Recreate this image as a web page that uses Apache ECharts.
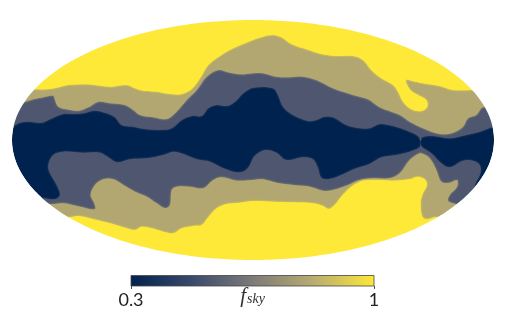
<!DOCTYPE html>
<html><head><meta charset="utf-8">
<style>html,body{margin:0;padding:0;background:#fff}#c{width:506px;height:321px}</style>
<script src="https://cdn.jsdelivr.net/npm/echarts@6/dist/echarts.min.js"></script>
</head><body><div id="c"></div>
<script>
// Map-plane boundaries between f_sky levels (x, y on the Mollweide plane, read left to right)
const northSlateEdge = [[-250,14],[-240.3,14],[-233,17.3],[-224.7,18.3],[-211.3,17.3],[-203,20.7],[-189.7,26],[-178,26],[-169.7,26.7],[-158,29.3],[-146.3,26.7],[-138,22.7],[-131.3,15],[-119.7,13.3],[-106.3,10.7],[-93,10],[-81.3,11.7],[-71.3,20],[-61.3,24],[-51.3,24],[-44.7,31.7],[-36.3,35],[-26.3,34],[-18,38.3],[-9.7,46.7],[0,52.3],[20,51.7],[25,45],[30,33.3],[40,25],[55,19],[63.3,20],[71.7,23.3],[80,22.7],[93.3,15],[106.7,11.7],[116.7,11.7],[126.7,16],[140,14],[156.7,8.3],[165.5,3.5],[167.8,-1.5],[169,2.7],[180,4],[196.7,1.7],[213.3,5],[226.7,8.3],[240,13.3],[252,16]];
const northKhakiEdge = [[-250,34],[-229,37.7],[-219.7,40.7],[-209.7,42.7],[-199.7,44.3],[-198,40],[-194.7,33.3],[-186.3,30.7],[-174.7,29.3],[-164.7,32.7],[-154.7,38.3],[-143,36.7],[-128,35],[-119.7,30],[-113,25],[-99.7,22.7],[-86.3,21],[-78,26.7],[-66.3,40],[-56.3,50],[-46.3,63.3],[-34.7,70],[-23,67.3],[-11.3,65.7],[0,66.7],[10,66.7],[23.3,63.3],[36.7,62.7],[50,63.3],[63.3,60],[80,51.7],[100,45],[115,40.7],[126.7,32.7],[138.3,28.3],[146.7,25],[156.7,18.3],[170,11.7],[186.7,6],[200,7.3],[210,13.3],[215,21.7],[223.3,25],[230,32.7],[250,34]];
const northYellowEdge = [[-250,50],[-219.7,50.7],[-206.3,50.7],[-196.3,52.3],[-184.7,55],[-166.3,55.7],[-143,53.3],[-126.3,55],[-118,51.7],[-109.7,49.3],[-96.3,48.3],[-83,46],[-71.3,46],[-61.3,51],[-53,61.7],[-44.7,75],[-33,84],[-19.7,91.7],[0,100],[10,103.3],[20,105],[28.3,102.7],[38.3,96],[53.3,90.7],[68.3,86],[83.3,84],[100,84],[110,80],[118.3,70],[128.3,61.7],[140,55],[145,48.3],[150,38.3],[158.3,30.7],[168.3,29],[174.3,33.3],[173.3,40],[165,45],[157.3,50],[152.7,60],[158.3,59.3],[170,56.7],[186.7,54],[200,50],[218.3,50],[250,50]];
const southSlateEdge = [[-228,-58],[-209.7,-58.3],[-198,-59.3],[-193,-55],[-196.3,-45],[-203,-33.3],[-204.7,-25],[-199.7,-15],[-189.7,-11.7],[-169.7,-12.7],[-153,-12.7],[-144.7,-17.3],[-136.3,-22.3],[-123,-19.3],[-106.3,-18.3],[-89.7,-15],[-79.7,-11.7],[-69.7,-14],[-56.3,-19.3],[-43,-21.7],[-29.7,-28.3],[-16.3,-32.3],[-8,-30.7],[-3,-25],[0,-18.3],[5,-13.3],[13.3,-10],[23.3,-12.7],[33.3,-20],[50,-17.3],[60,-19.3],[65,-28.3],[68.3,-37.7],[76.7,-39],[88.3,-35],[103.3,-28.3],[116.7,-24],[128.3,-17.3],[143.3,-15],[156.7,-11.7],[166.7,-7.3],[167.7,-1.7],[168.7,-6.7],[178.3,-13.3],[188.3,-23.3],[196.7,-27.3],[210,-20.7],[220,-20.7],[226.7,-25],[227.3,-33.3],[222,-48],[240,-58]];
const southKhakiEdge = [[-225,-64],[-201.3,-64.3],[-189.7,-63.3],[-173,-66.7],[-158,-69.3],[-158.7,-63.3],[-162.3,-55],[-158,-45],[-149.7,-39.3],[-139.7,-39.3],[-129.7,-45],[-118,-51.7],[-106.3,-56.7],[-96.3,-63.3],[-88,-68.3],[-83,-65],[-81.3,-50],[-76.3,-46.7],[-63,-46.7],[-49.7,-48.3],[-39.7,-40],[-31.3,-37.3],[-16.3,-40.7],[0,-40],[10,-39.3],[23.3,-42.7],[40,-45],[56.7,-46.7],[70,-50.7],[80,-50],[95,-45],[106.7,-40],[120,-38.3],[136.7,-38.3],[146.7,-33.3],[156.7,-20],[165,-14],[168.3,-13.3],[176.7,-18.3],[183.3,-30],[188.3,-41.7],[196.7,-42.7],[204,-40],[204,-46.7],[196.7,-55],[195,-60.7],[200,-63.3],[225,-70]];
const southYellowEdge = [[-205,-77],[-183.7,-77.3],[-174.7,-76],[-159.7,-79.3],[-143,-83.3],[-126.3,-88.3],[-118,-90],[-111.3,-86.7],[-101.3,-88.3],[-89.7,-91.7],[-79.7,-93.3],[-71.3,-88.3],[-59.7,-86],[-51.3,-85],[-44.7,-77.3],[-36.3,-68.3],[-26.3,-64],[-13,-62.7],[0,-61],[20,-61.7],[40,-62.3],[60,-63.3],[70,-66],[76,-69],[81.7,-65],[88.3,-56.7],[98.3,-46.7],[110,-40.7],[123.3,-40],[140,-40.7],[156.7,-39.3],[165,-36.7],[171.7,-39.3],[174,-45],[170,-53.3],[167.7,-61.7],[169,-76],[173.3,-79.3],[183.3,-77.3],[215,-85]];

const levelColors = {navy:'#00224e', slate:'#4f5770', khaki:'#b2a770', yellow:'#fee838'};
const colorbarStops = ['#00224e','#3a496b','#7c7b78','#b9ac70','#fee838'];
const colorbarTicks = [0.3, 1];
const colorbarLabels = ['0.3','1'];
const colorbarRange = [0.3, 1];

const A = 241, B = 120;           // half-axes of the map ellipse in plane units
const FAR = 200;
const layers = [
  {edge:northSlateEdge, color:levelColors.slate, side:1},
  {edge:southSlateEdge, color:levelColors.slate, side:-1},
  {edge:northKhakiEdge, color:levelColors.khaki, side:1},
  {edge:southKhakiEdge, color:levelColors.khaki, side:-1},
  {edge:northYellowEdge, color:levelColors.yellow, side:1},
  {edge:southYellowEdge, color:levelColors.yellow, side:-1}
];
function ellipsePts(rev){
  const out=[];
  for(let i=0;i<=360;i++){const t=(rev?-i:i)*Math.PI/180; out.push([A*Math.cos(t),B*Math.sin(t)]);}
  return out;
}
function regionPts(l){
  const e=l.edge, y=l.side*FAR, ends=e[e.length-1], first=e[0];
  return e.concat([[ends[0]+30,ends[1]],[ends[0]+30,y],[first[0]-30,y],[first[0]-30,first[1]]]);
}
const chart = echarts.init(document.getElementById('c'), null, {renderer:'canvas'});
chart.setOption({
  backgroundColor:'#fff',
  animation:false,
  grid:[
    {left:0,top:0,width:506,height:321,show:false,outerBoundsMode:'none'},
    {left:131,top:275.5,width:243,height:10.5,show:false,outerBoundsMode:'none'}
  ],
  xAxis:[
    {gridIndex:0,type:'value',min:-253,max:253,show:false},
    {gridIndex:1,type:'value',min:colorbarRange[0],max:colorbarRange[1],z:10,
     axisLine:{show:false},splitLine:{show:false},
     axisTick:{show:true,length:3,customValues:colorbarTicks,lineStyle:{color:'#222',width:0.8}},
     axisLabel:{show:true,margin:5,customValues:colorbarTicks,fontFamily:'Lato',fontSize:18,color:'#222',
       showMinLabel:true,showMaxLabel:true,alignMinLabel:'center',alignMaxLabel:'center',
       formatter:v=>colorbarLabels[colorbarTicks.indexOf(v)]},
     name:'{f|f}{s|sky}',nameLocation:'middle',nameGap:0,nameMoveOverlap:false,
     nameTextStyle:{verticalAlign:'top',rich:{
       f:{fontFamily:'Liberation Serif',fontStyle:'italic',fontSize:21,color:'#333'},
       s:{fontFamily:'Liberation Serif',fontStyle:'italic',fontSize:14,color:'#333',padding:[5,0,0,1]}}}}
  ],
  yAxis:[
    {gridIndex:0,type:'value',min:-181,max:140,show:false},
    {gridIndex:1,type:'value',min:0,max:1,show:false}
  ],
  series:[
    {type:'custom',xAxisIndex:0,yAxisIndex:0,clip:false,silent:true,z:2,
     data:[[0]],
     renderItem:(p,api)=>({type:'polygon',
       shape:{points:ellipsePts(false).map(q=>api.coord(q))},
       style:{fill:levelColors.navy}})},
    {type:'custom',xAxisIndex:0,yAxisIndex:0,clip:false,silent:true,z:3,
     data:layers.map((l,i)=>[i]),
     renderItem:(p,api)=>{
       const l=layers[p.dataIndex];
       return {type:'polygon',
         shape:{points:regionPts(l).map(q=>api.coord(q)),smooth:0.35},
         style:{fill:l.color,shadowColor:l.color,shadowBlur:2}};
     }},
    {type:'custom',xAxisIndex:0,yAxisIndex:0,clip:false,silent:true,z:4,
     data:[[0]],
     renderItem:(p,api)=>{
       const outer=[[253,0],[253,140],[-253,140],[-253,-181],[253,-181],[253,0]];
       const hole=ellipsePts(true);
       const pts=[[253,0]].concat(outer.slice(1)).concat([[241,0]]).concat(hole);
       return {type:'polygon',shape:{points:pts.map(q=>api.coord(q))},style:{fill:'#fff'}};
     }},
    {type:'custom',xAxisIndex:1,yAxisIndex:1,clip:false,silent:true,z:5,
     data:[[0]],
     renderItem:(p,api)=>{
       const a=api.coord([colorbarRange[0],1]), b=api.coord([colorbarRange[1],0]);
       return {type:'rect',shape:{x:a[0],y:a[1],width:b[0]-a[0],height:b[1]-a[1]},
         style:{fill:new echarts.graphic.LinearGradient(0,0,1,0,
           colorbarStops.map((c,i)=>({offset:i/(colorbarStops.length-1),color:c}))),
           stroke:'#444',lineWidth:0.8}};
     }}
  ]
});
</script></body></html>
